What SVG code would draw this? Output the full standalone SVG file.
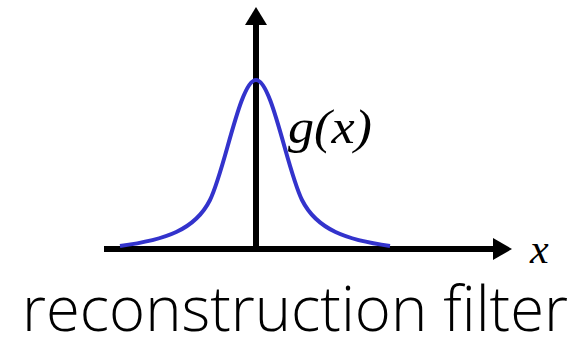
<svg xmlns="http://www.w3.org/2000/svg" width="577" height="340" viewBox="0 0 577 340">
<style>
.ax{stroke:#000;stroke-width:6;fill:none}
.lbl{font-family:"Liberation Serif",serif;font-style:italic;fill:#000}
</style>
<rect width="577" height="340" fill="#fff"/>
<g id="connectors">
<line class="ax" x1="104" y1="249" x2="496" y2="249"/>
<polygon points="512,249 493,238 493,260" fill="#000"/>
<line class="ax" x1="256" y1="249" x2="256" y2="22"/>
<polygon points="256,7 245,25 267,25" fill="#000"/>
</g>
<g id="curve">
<path d="M120,246 C165,240 195,230 210,200 C225,170 240,80 256,80 C272,80 287,170 302,200 C317,230 347,240 390,246" stroke="#3333cc" stroke-width="4" fill="none"/>
</g>
<g id="labels">
<text class="lbl" x="288" y="143" font-size="48" textLength="84" lengthAdjust="spacingAndGlyphs">g(x)</text>
<text class="lbl" x="530" y="263" font-size="42">x</text>
<text x="22" y="331" font-family="'Open Sans',sans-serif" font-weight="300" font-size="62" textLength="546" lengthAdjust="spacingAndGlyphs" fill="#000">reconstruction filter</text>
</g>
</svg>
